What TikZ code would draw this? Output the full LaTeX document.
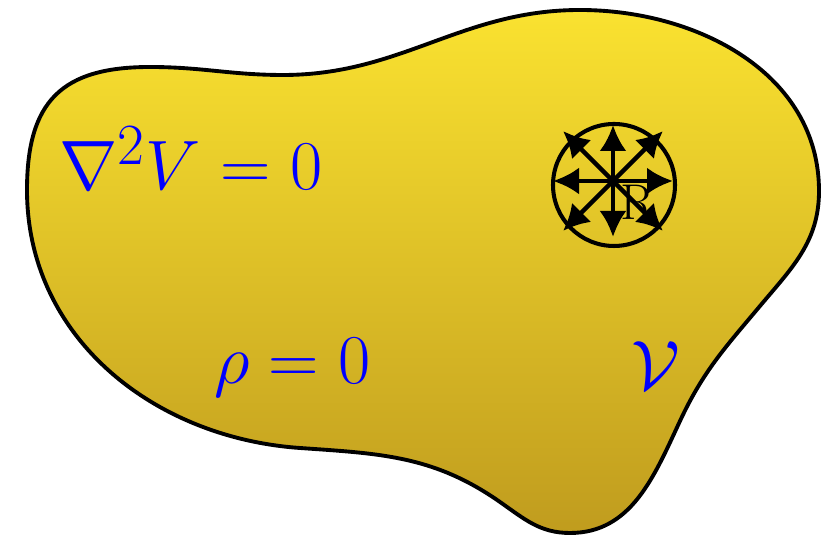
\documentclass[tikz,border=0pt]{standalone}
\usepackage{tikz}
\usetikzlibrary{arrows.meta}
\definecolor{regtop}{RGB}{250,226,48}
\definecolor{regbot}{RGB}{192,156,30}

\begin{document}
\begin{tikzpicture}[
  region/.style={draw,line width=2.2pt,top color=regtop,bottom color=regbot},
  eqn/.style={text=blue,font=\Huge,scale=1.6,anchor=base,inner sep=0pt},
  ray/.style={-{Latex[length=5.2mm,width=5.4mm]},line width=2.5pt}
]
\useasboundingbox (0,0) rectangle (16.54,10.72);
% the region V
\draw[region] (0.54,6.92) to[out=90,in=180,looseness=1.3] (3.0,9.38)
  to[out=0,in=180] (5.66,9.22) to[out=0,in=180] (11.6,10.52)
  to[out=0,in=90] (16.38,6.9) to[out=-90,in=50] (15.2,4.6)
  to[out=230,in=65] (13.6,2.3) to[out=245,in=0] (11.4,0.06)
  to[out=180,in=-35] (10.0,0.68) to[out=145,in=-4] (6.0,1.76)
  to[out=176,in=-90] cycle;
\node[eqn] (laplace) at (3.82,6.92) {$\nabla^2 V = 0$};
\node[eqn] (rho) at (5.85,3.04) {$\rho = 0$};
\node[eqn] (vol) at (13.12,2.92) {$\mathcal{V}$};
% sphere round R
\coordinate (P) at (12.26,7.1);
\draw[line width=2.3pt] (12.28,7.02) circle (1.22);
\foreach \dx/\dy in {1.2/0,-1.2/0,0/1.12,0/-1.12,1/1,-1/1,1/-1,-1/-1}
  \draw[ray] (P) -- ++(\dx,\dy);
\node[font=\Huge,scale=1.15,inner sep=0pt] (R) at (12.75,6.67) {R};
\end{tikzpicture}
\end{document}
